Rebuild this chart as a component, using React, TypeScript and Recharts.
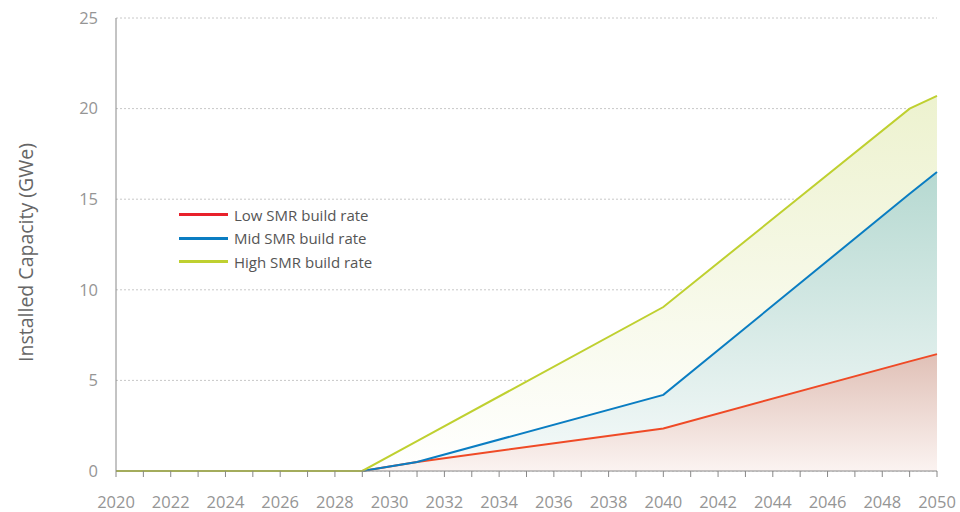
import React from "react";
import {
  ComposedChart,
  Area,
  Line,
  XAxis,
  YAxis,
  CartesianGrid,
} from "recharts";

// break-point years
const years = [2020, 2029, 2031, 2040, 2049, 2050];
const lowRate = [0, 0, 0.5, 2.35, 6.05, 6.45];
const midRate = [0, 0, 0.5, 4.2, 15.3, 16.5];
const highRate = [0, 0, 1.65, 9.05, 20.0, 20.7];

const xTicks = Array.from({ length: 31 }, (_, i) => 2020 + i);
const yTicks = [0, 5, 10, 15, 20, 25];

const data = years.map((y, i) => ({
  year: y,
  low: lowRate[i],
  mid: midRate[i],
  high: highRate[i],
}));

const FONT = "'Open Sans', 'Noto Sans', sans-serif";
const LOW = "#ef4a26";
const MID = "#0a7dc2";
const HIGH = "#bfd030";

const legendItems = [
  { label: "Low SMR build rate", color: "#e8212b" },
  { label: "Mid SMR build rate", color: MID },
  { label: "High SMR build rate", color: HIGH },
];

// legend drawn as an overlay so it doesn't eat into the plot area
function LegendBox() {
  return (
    <div
      style={{
        position: "absolute",
        left: 179,
        top: 203,
        fontFamily: FONT,
        fontSize: 15,
        color: "#555",
      }}
    >
      {legendItems.map((it) => (
        <div key={it.label} style={{ display: "flex", alignItems: "center", height: 23.5 }}>
          <div style={{ width: 49, height: 3, background: it.color, marginRight: 6 }} />
          <span>{it.label}</span>
        </div>
      ))}
    </div>
  );
}

export default function App() {
  return (
    <div style={{ position: "absolute", left: 0, top: 0, width: 960, height: 512, background: "#fff" }}>
      <ComposedChart
        width={960}
        height={512}
        data={data}
        margin={{ top: 18, right: 23, bottom: 0, left: 0 }}
      >
        <defs>
          <linearGradient id="gHigh" x1="0" y1="0" x2="0" y2="1">
            <stop offset="0%" stopColor="#edf2cf" />
            <stop offset="100%" stopColor="#ffffff" />
          </linearGradient>
          <linearGradient id="gMid" x1="0" y1="0" x2="0" y2="1">
            <stop offset="0%" stopColor="#b6d9d1" />
            <stop offset="100%" stopColor="#f6fafa" />
          </linearGradient>
          <linearGradient id="gLow" x1="0" y1="0" x2="0" y2="1">
            <stop offset="0%" stopColor="#e0c0b6" />
            <stop offset="100%" stopColor="#fbf3f1" />
          </linearGradient>
        </defs>
        <CartesianGrid
          vertical={false}
          stroke="#c8c8c8"
          strokeDasharray="2 2"
        />
        <XAxis
          dataKey="year"
          type="number"
          domain={[2020, 2050]}
          ticks={xTicks}
          interval={0}
          tickFormatter={(v) => (v % 2 === 0 ? String(v) : "")}
          height={41}
          stroke="#888"
          tickSize={6}
          tickMargin={19}
          tick={{ fill: "#959595", fontSize: 16.5, fontFamily: FONT }}
        />
        <YAxis
          type="number"
          domain={[0, 25]}
          ticks={yTicks}
          width={116}
          stroke="#888"
          tickLine={false}
          tickMargin={12}
          tick={{ fill: "#959595", fontSize: 16.5, fontFamily: FONT }}
          label={{
            value: "Installed Capacity (GWe)",
            angle: -90,
            position: "insideLeft",
            dx: 21,
            dy: 8,
            style: { textAnchor: "middle", fill: "#666", fontSize: 19.5, fontFamily: FONT },
          }}
        />
        <Area type="linear" dataKey="high" stroke="none" fill="url(#gHigh)" fillOpacity={1} isAnimationActive={false} />
        <Area type="linear" dataKey="mid" stroke="none" fill="url(#gMid)" fillOpacity={1} isAnimationActive={false} />
        <Area type="linear" dataKey="low" stroke="none" fill="url(#gLow)" fillOpacity={1} isAnimationActive={false} />
        <Line type="linear" dataKey="low" stroke={LOW} strokeWidth={2} dot={false} isAnimationActive={false} />
        <Line type="linear" dataKey="mid" stroke={MID} strokeWidth={2} dot={false} isAnimationActive={false} />
        <Line type="linear" dataKey="high" stroke={HIGH} strokeWidth={2} dot={false} isAnimationActive={false} />
      </ComposedChart>
      <LegendBox />
    </div>
  );
}
